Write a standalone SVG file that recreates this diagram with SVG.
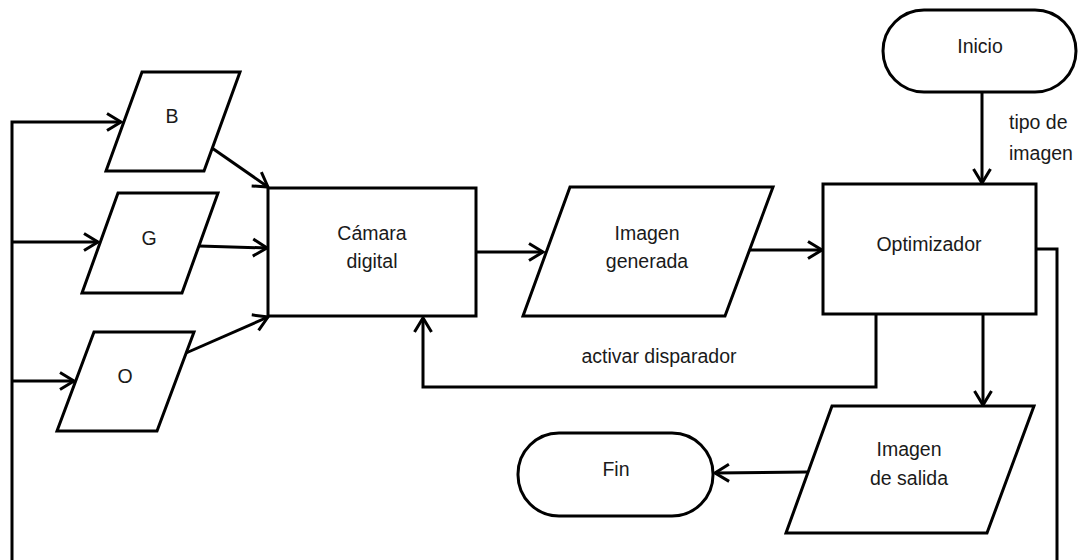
<svg xmlns="http://www.w3.org/2000/svg" width="1078" height="560" viewBox="0 0 1078 560">
<defs>
<style>
.s{fill:#fff;stroke:#000;stroke-width:3}
.c{fill:none;stroke:#000;stroke-width:3}
.t{font-family:"Liberation Sans",Arial,sans-serif;font-size:19.5px;fill:#1a1a1a;text-anchor:middle}
.l{font-family:"Liberation Sans",Arial,sans-serif;font-size:19.5px;fill:#1a1a1a}
</style>
<marker id="a" markerUnits="userSpaceOnUse" markerWidth="24" markerHeight="24" refX="17" refY="10" orient="auto" overflow="visible">
<path d="M3,1.5 L17,10 L3,18.5" fill="none" stroke="#000" stroke-width="3"/>
</marker>
</defs>
<rect width="1078" height="560" fill="#fff"/>
<g id="connectors">
<path class="c" d="M1037,249 H1057 V575 H12 V122 H121" marker-end="url(#a)"/>
<path class="c" d="M12,242 H98" marker-end="url(#a)"/>
<path class="c" d="M12,381 H74" marker-end="url(#a)"/>
<path class="c" d="M212,148 L268,187" marker-end="url(#a)"/>
<path class="c" d="M199,246 L267,248" marker-end="url(#a)"/>
<path class="c" d="M186,353 L268,317" marker-end="url(#a)"/>
<path class="c" d="M476,252 H543" marker-end="url(#a)"/>
<path class="c" d="M750,250 H822" marker-end="url(#a)"/>
<path class="c" d="M982,92 V183" marker-end="url(#a)"/>
<path class="c" d="M876,314 V387 H423 V318" marker-end="url(#a)"/>
<path class="c" d="M983,314 V405" marker-end="url(#a)"/>
<path class="c" d="M807,472 L715,473" marker-end="url(#a)"/>
<text class="t" x="659" y="363">activar disparador</text>
<text class="l" x="1009" y="129">tipo de</text>
<text class="l" x="1009" y="160">imagen</text>
</g>
<g id="B">
<polygon class="s" points="142,72 240,72 204,171 106,171"/>
<text class="t" x="172" y="123">B</text>
</g>
<g id="G">
<polygon class="s" points="118,193 218,193 182,293 82,293"/>
<text class="t" x="149" y="245">G</text>
</g>
<g id="O">
<polygon class="s" points="94,332 194,332 157,431 57,431"/>
<text class="t" x="125" y="383">O</text>
</g>
<g id="camara">
<rect class="s" x="268" y="188" width="208" height="128"/>
<text class="t" x="372" y="240">Cámara</text>
<text class="t" x="372" y="268">digital</text>
</g>
<g id="imagen-generada">
<polygon class="s" points="570,187 773,187 725,316 523,316"/>
<text class="t" x="647" y="240">Imagen</text>
<text class="t" x="647" y="268">generada</text>
</g>
<g id="optimizador">
<rect class="s" x="823" y="184" width="213" height="130"/>
<text class="t" x="929" y="251">Optimizador</text>
</g>
<g id="inicio">
<rect class="s" x="883" y="10" width="193" height="82" rx="41" ry="41"/>
<text class="t" x="980" y="53">Inicio</text>
</g>
<g id="imagen-salida">
<polygon class="s" points="832,406 1034,406 987,533 786,533"/>
<text class="t" x="909" y="456">Imagen</text>
<text class="t" x="909" y="485">de salida</text>
</g>
<g id="fin">
<rect class="s" x="518" y="433" width="195" height="83" rx="41" ry="41"/>
<text class="t" x="616" y="476">Fin</text>
</g>
</svg>
